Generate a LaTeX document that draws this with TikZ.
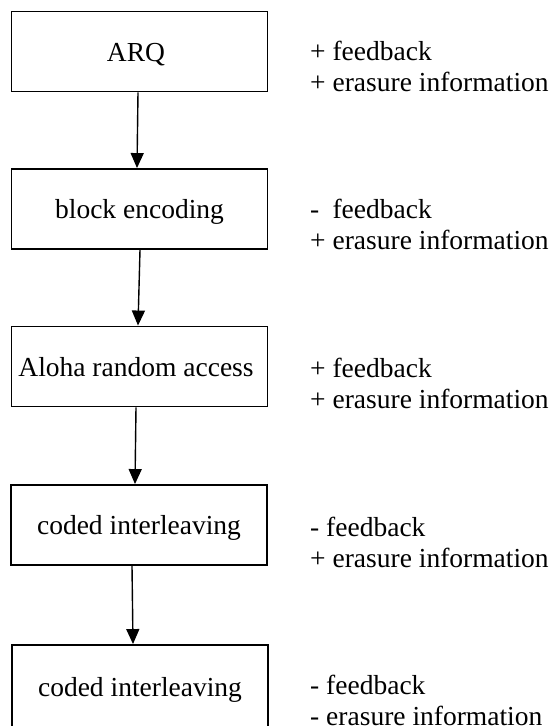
\documentclass[tikz,border=0pt]{standalone}
\usepackage{fontspec}
\setmainfont{Liberation Serif}
\usetikzlibrary{arrows.meta}
\begin{document}
\begin{tikzpicture}[x=1pt,y=-1pt,
 box/.style={draw, line width=1.9pt, minimum width=256pt, minimum height=80pt, inner sep=0pt,
   text height=19pt, text depth=0pt, font=\fontsize{27.5}{31.5}\selectfont},
 lab/.style={anchor=base west, align=left, inner sep=0pt, font=\fontsize{27.5}{31.5}\selectfont},
 arr/.style={line width=1.4pt, -{Triangle[length=15pt,width=13pt]}}]
\useasboundingbox (0,0) rectangle (551,726);
\clip (0,0) rectangle (551,726);
\node[box] (b1) at (139.5,51.5) {\hspace{-7pt}ARQ};
\node[box] (b2) at (139.5,209) {block encoding\hspace{17pt}};
\node[box] (b3) at (139.5,366.5) {\hspace{-7pt}Aloha random access};
\node[box] (b4) at (139,525) {coded interleaving};
\node[box, minimum height=84pt] (b5) at (140,687) {coded interleaving};
\node[lab] (l1) at (310,91.5) {+ feedback\\+ erasure information};
\node[lab] (l2) at (310,249.5) {\rlap{-}\hphantom{+} feedback\\+ erasure information};
\node[lab] (l3) at (310,408.5) {+ feedback\\+ erasure information};
\node[lab] (l4) at (310,567.5) {- feedback\\+ erasure information};
\node[lab] (l5) at (310,725.5) {- feedback\\- erasure information};
\draw[arr] ([xshift=-1.5pt]b1.south) -- ([xshift=-2.5pt]b2.north);
\draw[arr] ([xshift=0.5pt]b2.south) -- ([xshift=-1.5pt]b3.north);
\draw[arr] ([xshift=-3.5pt]b3.south) -- ([xshift=-4pt]b4.north);
\draw[arr] ([xshift=-7pt]b4.south) -- ([xshift=-7pt]b5.north);
\end{tikzpicture}
\end{document}
